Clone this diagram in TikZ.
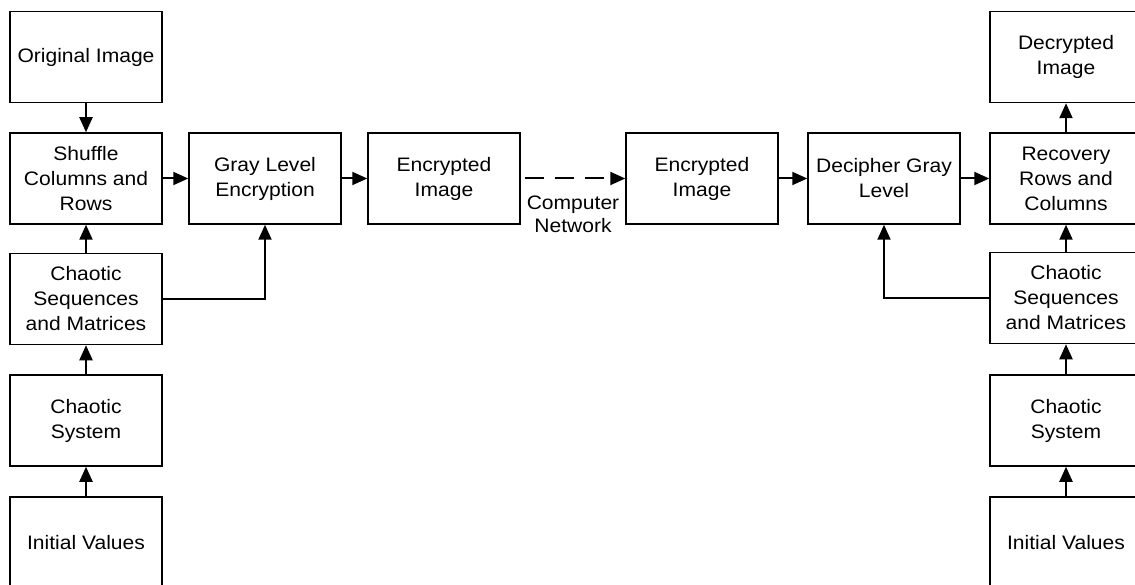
\documentclass[tikz,border=0pt]{standalone}
\usepackage{fontspec}
\setmainfont{Liberation Sans}[FakeStretch=1.08]
\usetikzlibrary{arrows.meta}
\begin{document}
\begin{tikzpicture}[x=1pt,y=-1pt,
  box/.style={draw,line width=1.5pt,minimum width=152pt,minimum height=91pt,inner sep=0pt,align=center,font=\fontsize{19.5}{25}\selectfont},
  arr/.style={line width=2pt,-{Triangle[length=15pt,width=13pt]}},
  lbl/.style={align=center,font=\fontsize{19.5}{23}\selectfont}]
\useasboundingbox (0,0) rectangle (1135,585);
\node[box] (orig) at (86,57) {Original Image};
\node[box] (shuf) at (86,178.5) {Shuffle\\Columns and\\Rows};
\node[box] (seq) at (86,299) {Chaotic\\Sequences\\and Matrices};
\node[box] (sys) at (86,420.5) {Chaotic\\System};
\node[box] (init) at (86,542.5) {Initial Values};
\node[box] (gray) at (265,178.5) {Gray Level\\Encryption};
\node[box] (enc) at (444,178.5) {Encrypted\\Image};
\node[box] (enc2) at (702,178.5) {Encrypted\\Image};
\node[box] (dec) at (884,178.5) {Decipher Gray\\Level};
\node[box] (rec) at (1066,178.5) {Recovery\\Rows and\\Columns};
\node[box] (decr) at (1066,57) {Decrypted\\Image};
\node[box] (rseq) at (1066,298) {Chaotic\\Sequences\\and Matrices};
\node[box] (rsys) at (1066,420.5) {Chaotic\\System};
\node[box] (rinit) at (1066,542.5) {Initial Values};
\node[lbl,anchor=north] (net) at (573,192) {Computer\\Network};
\draw[arr] (orig) -- (shuf);
\draw[arr] (seq) -- (shuf);
\draw[arr] (sys) -- (seq);
\draw[arr] (init) -- (sys);
\draw[arr] (shuf) -- (gray);
\draw[arr] (seq.east) -| (gray.south);
\draw[arr] (gray) -- (enc);
\draw[arr,dash pattern=on 19pt off 11pt] ([xshift=4pt]enc.east) -- (enc2.west);
\draw[arr] (enc2) -- (dec);
\draw[arr] (dec) -- (rec);
\draw[arr] (rec) -- (decr);
\draw[arr] (rseq) -- (rec);
\draw[arr] (rsys) -- (rseq);
\draw[arr] (rinit) -- (rsys);
\draw[arr] (rseq.west) -| (dec.south);
\end{tikzpicture}
\end{document}
